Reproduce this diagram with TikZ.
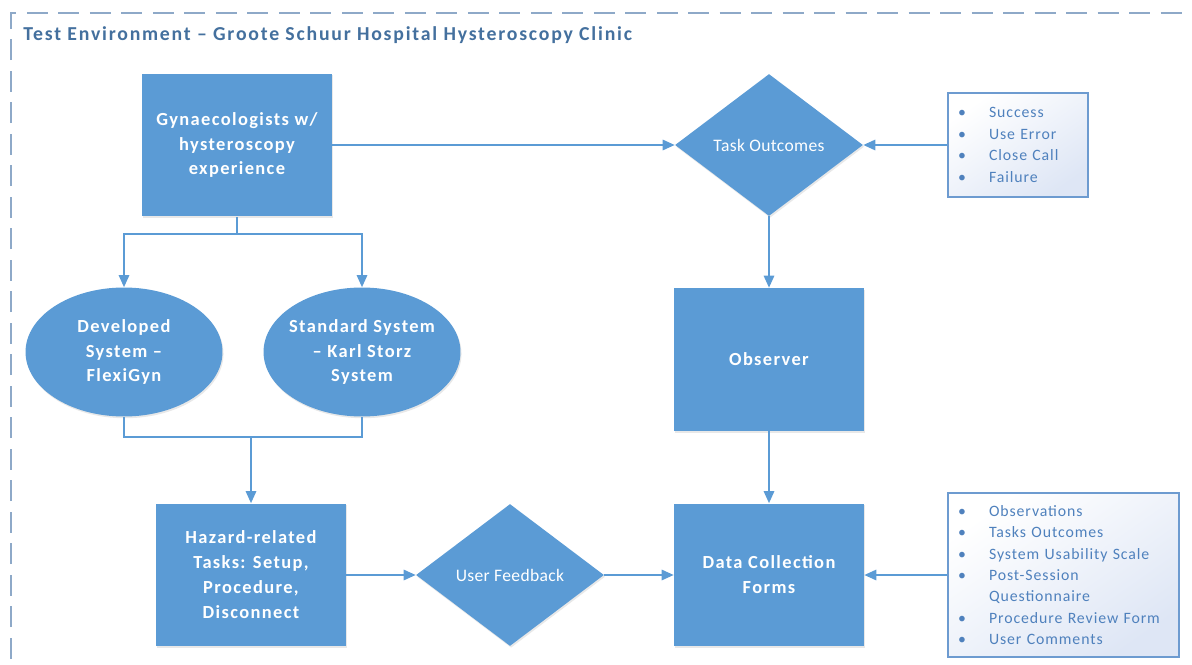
\documentclass[tikz,border=0pt]{standalone}
\usepackage{fontspec}
\setmainfont{Carlito}
\usetikzlibrary{arrows.meta,positioning,shapes.geometric,shadows}
\definecolor{boxblue}{HTML}{5B9BD5}
\definecolor{frameblue}{HTML}{8EA9C8}
\definecolor{titleblue}{HTML}{44709E}
\definecolor{listblue}{HTML}{4F81BD}
\definecolor{listedge}{HTML}{6D9BD0}
\definecolor{listfill}{HTML}{DEE6F5}
\tikzset{
  soft/.style={drop shadow={shadow xshift=0.6pt,shadow yshift=-1pt,opacity=0.18}},
  block/.style={rectangle,fill=boxblue,text=white,align=center,inner sep=0pt,
                minimum width=3.8cm,minimum height=2.86cm,soft,
                font=\fontsize{10.5}{14.2}\selectfont\bfseries\addfontfeature{LetterSpace=7.4}},
  oval/.style={ellipse,fill=boxblue,text=white,align=center,inner xsep=-4pt,inner ysep=0pt,
               minimum width=3.94cm,minimum height=2.58cm,soft,
               font=\fontsize{10.5}{14.2}\selectfont\bfseries\addfontfeature{LetterSpace=7.4}},
  decision/.style={diamond,aspect=1.32,fill=boxblue,text=white,inner sep=0pt,
                   minimum width=3.76cm,minimum height=2.84cm,soft,
                   font=\fontsize{10}{12}\selectfont\addfontfeature{LetterSpace=2}},
  itemlist/.style={rectangle,draw=listedge,line width=0.9pt,top color=white,
                   bottom color=listfill,shading angle=35,text=listblue,
                   inner xsep=0.2cm,inner ysep=0pt,align=left,
                   font=\fontsize{9}{12.2}\selectfont\addfontfeature{LetterSpace=5.8}},
  flow/.style={-{Triangle[length=2.4mm,width=2.1mm]},draw=boxblue,line width=0.85pt},
  link/.style={draw=boxblue,line width=0.85pt},
  frame/.style={draw=frameblue,line width=1.1pt,dash pattern=on 0.42cm off 0.21cm},
}
\newcommand{\bul}{\makebox[0.62cm][l]{\textbullet}}
\newcommand{\nobul}{\hspace*{0.62cm}}

\begin{document}
\begin{tikzpicture}[x=0.02cm,y=-0.02cm]
  \useasboundingbox (0,0) rectangle (1192,665);
  \draw[frame] (11,690) |- (1210,13);
  \node[anchor=base west,text=titleblue,inner sep=0pt,
        font=\fontsize{11.25}{13}\selectfont\bfseries\addfontfeature{LetterSpace=9}]
    (title) at (23,41) {Test Environment -- Groote Schuur Hospital Hysteroscopy Clinic};

  \node[block] (g) at (237,145) {Gynaecologists w/\\hysteroscopy\\experience};
  \node[decision] (t) at (769,145) {Task Outcomes};
  \node[itemlist,text width=2.4cm,minimum height=2.08cm] (l1) at (1018,145)
    {\bul Success\\\bul Use Error\\\bul Close Call\\\bul Failure};

  \node[oval] (d) at (124,352) {Developed\\System --\\FlexiGyn};
  \node[oval] (s) at (362,352) {Standard System\\-- Karl Storz\\System};
  \node[block] (o) at (769,359.5) {Observer};

  \node[block] (h) at (251,575) {Hazard-related\\Tasks: Setup,\\Procedure,\\Disconnect};
  \node[decision] (f) at (510,575) {User Feedback};
  \node[block] (c) at (769,575) {Data Collection\\Forms};
  \node[itemlist,text width=4.22cm,minimum height=3.28cm] (l2) at (1063.5,575)
    {\bul Observations\\\bul Tasks Outcomes\\\bul System Usability Scale\\
     \bul Post-Session\\\nobul Questionnaire\\\bul Procedure Review Form\\\bul User Comments};

  \coordinate (gsplit) at (237,234);
  \coordinate (hjoin) at (251,437);

  \draw[flow] (g) -- (t);
  \draw[flow] (l1) -- (t);
  \draw[link] (g.south) -- (gsplit);
  \draw[flow] (gsplit) -| (d.north);
  \draw[flow] (gsplit) -| (s.north);
  \draw[link] (d.south) |- (hjoin);
  \draw[link] (s.south) |- (hjoin);
  \draw[flow] (hjoin) -- (h.north);
  \draw[flow] (t) -- (o);
  \draw[flow] (o) -- (c);
  \draw[flow] (h) -- (f);
  \draw[flow] (f) -- (c);
  \draw[flow] (l2) -- (c);
\end{tikzpicture}
\end{document}
